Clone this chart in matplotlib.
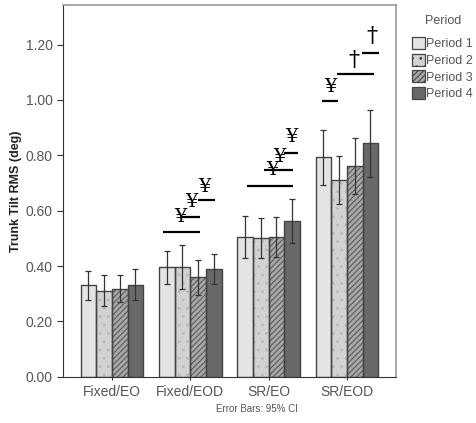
import matplotlib
matplotlib.use("Agg")
import matplotlib.pyplot as plt
from matplotlib.patches import Patch
import numpy as np

# data
groups = ["Fixed/EO", "Fixed/EOD", "SR/EO", "SR/EOD"]
periods = ["Period 1", "Period 2", "Period 3", "Period 4"]
means = [
    [0.331, 0.398, 0.505, 0.793],   # Period 1
    [0.310, 0.398, 0.501, 0.712],   # Period 2
    [0.318, 0.359, 0.505, 0.760],   # Period 3
    [0.333, 0.389, 0.564, 0.843],   # Period 4
]
ci_low = [
    [0.277, 0.336, 0.429, 0.693],
    [0.255, 0.318, 0.429, 0.625],
    [0.271, 0.295, 0.431, 0.659],
    [0.276, 0.336, 0.483, 0.720],
]
ci_high = [
    [0.382, 0.455, 0.582, 0.893],
    [0.366, 0.475, 0.572, 0.798],
    [0.366, 0.420, 0.578, 0.861],
    [0.388, 0.443, 0.642, 0.964],
]
yticks = [0.0, 0.2, 0.4, 0.6, 0.8, 1.0, 1.2]

# significance bars: (x0, x1, y)
sig_lines = [
    (0.655, 1.128, 0.524), (0.898, 1.128, 0.578), (1.102, 1.319, 0.639),
    (1.728, 2.315, 0.690), (1.945, 2.315, 0.747), (2.200, 2.379, 0.810),
    (2.686, 2.890, 0.996), (2.877, 3.350, 1.093), (3.197, 3.414, 1.171),
]
# symbols: (x, y, text)
sig_marks = [
    (0.872, 0.578, "¥"), (1.009, 0.633, "¥"), (1.179, 0.687, "¥"),
    (2.043, 0.747, "¥"), (2.141, 0.795, "¥"), (2.286, 0.865, "¥"),
    (2.788, 1.048, "¥"), (3.094, 1.145, "†"), (3.320, 1.231, "†"),
]

faces = ["#e4e4e4", "#d2d2d2", "#a8a8a8", "#696969"]
hatches = [None, "..", "//////", None]
hatch_cols = ["#e4e4e4", "#b8b8b8", "#5a5a5a", "#696969"]
EDGE = "#444444"
TXT = "#555555"

plt.rcParams["font.family"] = ["Liberation Sans", "DejaVu Sans"]
plt.rcParams["hatch.linewidth"] = 0.8

fig = plt.figure(figsize=(4.76, 4.23), dpi=100)
ax = fig.add_axes([0.133, 0.1095, 0.698, 0.8785])

x = np.arange(len(groups))
w = 0.2
for i in range(len(periods)):
    xs = x + (i - 1.5) * w
    m = np.array(means[i])
    lo = m - np.array(ci_low[i])
    hi = np.array(ci_high[i]) - m
    ax.bar(xs, m, width=w, color=faces[i], edgecolor=hatch_cols[i],
           hatch=hatches[i], linewidth=0, zorder=2)
    ax.bar(xs, m, width=w, facecolor="none", edgecolor=EDGE,
           linewidth=1.0, zorder=3)
    ax.errorbar(xs, m, yerr=[lo, hi], fmt="none", ecolor="#333333",
                elinewidth=0.9, capsize=2, capthick=0.9, zorder=4)

for x0, x1, y in sig_lines:
    ax.plot([x0, x1], [y, y], color="black", lw=1.6, zorder=5,
            solid_capstyle="butt")
for xm, ym, s in sig_marks:
    fs = 14 if s == "¥" else 16
    ax.text(xm, ym, s, ha="center", va="center", fontsize=fs,
            family=["DejaVu Serif"], color="black", zorder=6)

ax.set_xlim(-0.62, 3.62)
ax.set_ylim(0, 1.343)
ax.set_yticks(yticks)
ax.set_yticklabels([f"{t:.2f}" for t in yticks], color=TXT, fontsize=10)
ax.set_xticks(x)
ax.set_xticklabels(groups, color=TXT, fontsize=10)
ax.tick_params(axis="x", length=5, direction="inout", color="#333333")
ax.tick_params(axis="y", length=4, color="#333333")
ax.set_ylabel("Trunk Tilt RMS (deg)", fontsize=9, fontweight="bold",
              color="#222222", labelpad=3)
for s in ("left", "bottom"):
    ax.spines[s].set_color("#333333")
for s in ("top", "right"):
    ax.spines[s].set_color("#999999")
    ax.spines[s].set_linewidth(1.2)

fig.text(0.54, 0.025, "Error Bars: 95% CI", ha="center", fontsize=7,
         color=TXT)

# legend outside on the right
handles = [Patch(facecolor=faces[i], edgecolor=EDGE, hatch=hatches[i],
                 linewidth=0.9) for i in range(len(periods))]
leg = fig.legend(handles, periods, title="Period", loc="upper left",
                 bbox_to_anchor=(0.848, 0.985), frameon=False, fontsize=9,
                 title_fontsize=9, handlelength=1.0, handleheight=1.1,
                 handletextpad=0.12, labelspacing=0.28, labelcolor=TXT,
                 borderpad=0.2)
leg.get_title().set_color(TXT)
leg._legend_box.sep = 7

fig.savefig("out.png", dpi=100, facecolor="white")
